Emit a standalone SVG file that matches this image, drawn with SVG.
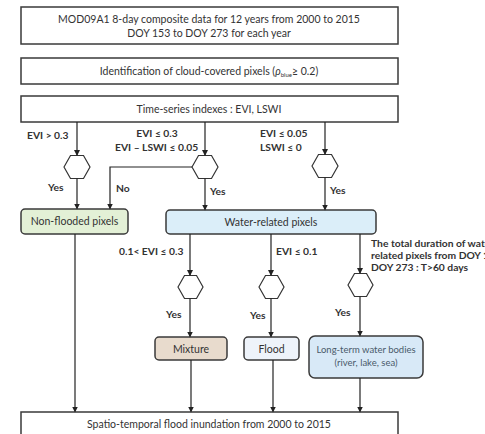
<svg xmlns="http://www.w3.org/2000/svg" width="485" height="434" viewBox="0 0 485 434">
<defs>
<marker id="ah" markerWidth="6" markerHeight="6" refX="5" refY="3" orient="auto" markerUnits="userSpaceOnUse">
<path d="M0,0 L6,3 L0,6 z" fill="#222"/>
</marker>
<style>
.box{stroke:#3a3a3a;stroke-width:1.5}
.t{font-family:Lato,"Open Sans",sans-serif;font-size:10.5px;fill:#333;text-anchor:middle}
.b{font-family:Lato,"Open Sans",sans-serif;font-size:10.3px;font-weight:bold;fill:#333}
.hex{fill:#fff;stroke:#333;stroke-width:1.2}
.c{fill:none;stroke:#222;stroke-width:1.2}
</style>
</defs>
<rect width="485" height="434" fill="#fff"/>
<g id="n1"><rect class="box" x="21" y="7" width="377" height="37" fill="#fff"/>
<text class="t" x="209" y="23">MOD09A1 8-day composite data for 12 years from 2000 to 2015</text>
<text class="t" x="209" y="37">DOY 153 to DOY 273 for each year</text></g>
<g id="n2"><rect class="box" x="21" y="58" width="377" height="26" fill="#fff"/>
<text class="t" x="209" y="75">Identification of cloud-covered pixels (<tspan font-style="italic">ρ</tspan><tspan font-size="6" dy="2">blue</tspan><tspan dy="-2">≥ 0.2)</tspan></text></g>
<g id="n3"><rect class="box" x="21" y="96" width="377" height="26" fill="#fff"/>
<text class="t" x="209" y="113">Time-series indexes : EVI, LSWI</text></g>
<g id="h1"><polygon class="hex" points="64,167 70.5,155.5 83.5,155.5 90,167 83.5,178.5 70.5,178.5"/></g>
<g id="h2"><polygon class="hex" points="192,167 198.5,155.5 211.5,155.5 218,167 211.5,178.5 198.5,178.5"/></g>
<g id="h3"><polygon class="hex" points="312,166 318.5,154.5 331.5,154.5 338,166 331.5,177.5 318.5,177.5"/></g>
<g id="n4"><rect class="box" x="21" y="209" width="107" height="25" rx="4" fill="#e3f0d6"/>
<text class="t" x="74.5" y="225">Non-flooded pixels</text></g>
<g id="n5"><rect class="box" x="166" y="210" width="210" height="24" rx="4" fill="#dbeef9"/>
<text class="t" x="271" y="226">Water-related pixels</text></g>
<g id="h4"><polygon class="hex" points="178,287 184.5,275.5 196.5,275.5 203,287 196.5,298.5 184.5,298.5"/></g>
<g id="h5"><polygon class="hex" points="259,287 265.5,275.5 277.5,275.5 284,287 277.5,298.5 265.5,298.5"/></g>
<g id="h6"><polygon class="hex" points="348,285 354.5,273.5 366.5,273.5 373,285 366.5,296.5 354.5,296.5"/></g>
<g id="n6"><rect class="box" x="155" y="337" width="72" height="23" rx="4" fill="#e8dbcd"/>
<text class="t" x="191" y="352.5">Mixture</text></g>
<g id="n7"><rect class="box" x="244" y="337" width="55" height="23" rx="4" fill="#eef3fa"/>
<text class="t" x="271.5" y="352.5">Flood</text></g>
<g id="n8"><rect class="box" x="309" y="336" width="114" height="42" rx="6" fill="#d8e9f7"/>
<text class="t" x="366" y="353" style="font-size:9.5px;fill:#4a5a6a">Long-term water bodies</text>
<text class="t" x="366" y="366" style="font-size:9.5px;fill:#4a5a6a">(river, lake, sea)</text></g>
<g id="n9"><rect class="box" x="21" y="412" width="377" height="30" fill="#fff"/>
<text class="t" x="209" y="428">Spatio-temporal flood inundation from 2000 to 2015</text></g>
<g id="connectors">
<line class="c" x1="77" y1="122" x2="77" y2="155" marker-end="url(#ah)"/>
<line class="c" x1="205" y1="122" x2="205" y2="155" marker-end="url(#ah)"/>
<line class="c" x1="325" y1="122" x2="325" y2="154" marker-end="url(#ah)"/>
<line class="c" x1="77" y1="178.5" x2="77" y2="208.5" marker-end="url(#ah)"/>
<polyline class="c" points="192,167 110,167 110,208.5" marker-end="url(#ah)"/>
<line class="c" x1="205" y1="178.5" x2="205" y2="209.5" marker-end="url(#ah)"/>
<line class="c" x1="325" y1="177.5" x2="325" y2="209.5" marker-end="url(#ah)"/>
<line class="c" x1="190" y1="234" x2="190" y2="275" marker-end="url(#ah)"/>
<line class="c" x1="271" y1="234" x2="271" y2="275" marker-end="url(#ah)"/>
<line class="c" x1="360" y1="234" x2="360" y2="273" marker-end="url(#ah)"/>
<line class="c" x1="190" y1="298.5" x2="190" y2="336.5" marker-end="url(#ah)"/>
<line class="c" x1="271" y1="298.5" x2="271" y2="336.5" marker-end="url(#ah)"/>
<line class="c" x1="360" y1="296.5" x2="360" y2="335.5" marker-end="url(#ah)"/>
<line class="c" x1="75" y1="234" x2="75" y2="411.5" marker-end="url(#ah)"/>
<line class="c" x1="191" y1="360" x2="191" y2="411.5" marker-end="url(#ah)"/>
<line class="c" x1="273" y1="360" x2="273" y2="411.5" marker-end="url(#ah)"/>
<line class="c" x1="360" y1="378" x2="360" y2="411.5" marker-end="url(#ah)"/>
</g>
<g id="labels">
<text class="b" x="27" y="139">EVI &gt; 0.3</text>
<text class="b" x="157" y="137" text-anchor="middle">EVI ≤ 0.3</text>
<text class="b" x="115" y="151">EVI – LSWI ≤ 0.05</text>
<text class="b" x="260" y="137">EVI ≤ 0.05</text>
<text class="b" x="260" y="151">LSWI ≤ 0</text>
<text class="b" x="48" y="191">Yes</text>
<text class="b" x="116" y="192">No</text>
<text class="b" x="210" y="195">Yes</text>
<text class="b" x="330" y="194">Yes</text>
<text class="b" x="119" y="255">0.1&lt; EVI ≤ 0.3</text>
<text class="b" x="276" y="255">EVI ≤ 0.1</text>
<text class="b" x="371" y="247">The total duration of water-</text>
<text class="b" x="371" y="259">related pixels from DOY 153 to</text>
<text class="b" x="371" y="271">DOY 273 : T&gt;60 days</text>
<text class="b" x="166" y="318">Yes</text>
<text class="b" x="250" y="319">Yes</text>
<text class="b" x="335" y="316">Yes</text>
</g>
</svg>
